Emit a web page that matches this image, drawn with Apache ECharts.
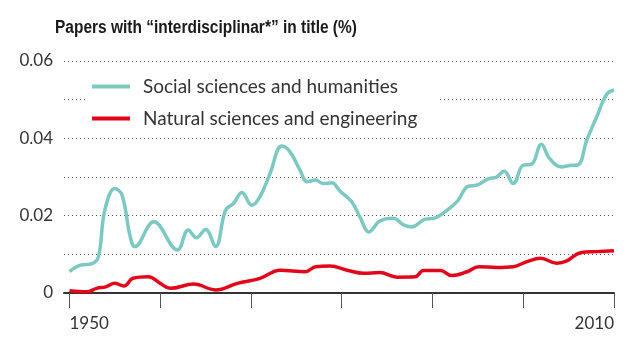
<!DOCTYPE html>
<html>
<head>
<meta charset="utf-8">
<script src="https://cdn.jsdelivr.net/npm/echarts@6/dist/echarts.min.js"></script>
<style>
  html, body { margin: 0; padding: 0; background: #fff; }
  #chart { width: 630px; height: 345px; }
</style>
</head>
<body>
<div id="chart"></div>
<script>
// Share of papers with "interdisciplinar*" in the title, by field
const socialYears = [1950.0, 1951.2, 1952.5, 1953.2, 1953.9, 1955.0, 1955.8, 1956.7, 1957.2, 1959.3,
  1961.9, 1963.1, 1964.0, 1965.0, 1966.1, 1967.2, 1968.1, 1969.0, 1970.1, 1971.0,
  1972.1, 1973.4, 1974.3, 1975.4, 1976.2, 1977.1, 1978.0, 1978.9, 1979.8, 1981.1,
  1982.0, 1983.0, 1984.2, 1985.7, 1986.8, 1987.7, 1989.2, 1990.1, 1991.6, 1992.8,
  1993.9, 1994.9, 1996.2, 1997.0, 1997.9, 1998.9, 2000.0, 2000.9, 2002.0, 2002.9,
  2004.2, 2005.1, 2006.0, 2007.0, 2008.1, 2009.2, 2010.0];
const socialValues = [0.0055, 0.0072, 0.0076, 0.0094, 0.0214, 0.0270, 0.0253, 0.0145, 0.0120, 0.0184,
  0.0111, 0.0163, 0.0143, 0.0164, 0.0120, 0.0214, 0.0232, 0.0260, 0.0227, 0.0249,
  0.0309, 0.0380, 0.0365, 0.0318, 0.0288, 0.0292, 0.0283, 0.0285, 0.0264, 0.0236,
  0.0197, 0.0158, 0.0186, 0.0193, 0.0176, 0.0171, 0.0191, 0.0193, 0.0214, 0.0239,
  0.0276, 0.0279, 0.0296, 0.0299, 0.0315, 0.0283, 0.0331, 0.0333, 0.0385, 0.0348,
  0.0326, 0.0330, 0.0331, 0.0395, 0.0456, 0.0514, 0.0525];

const naturalYears = [1950.0, 1951.9, 1953.0, 1954.0, 1955.0, 1956.0, 1957.0, 1958.7, 1960.0, 1961.1,
  1963.7, 1966.1, 1968.5, 1971.0, 1973.2, 1976.0, 1977.1, 1978.7, 1980.6, 1982.4,
  1984.2, 1986.1, 1988.1, 1989.0, 1990.9, 1992.1, 1993.8, 1995.1, 1997.1, 1998.9,
  2000.4, 2001.9, 2003.7, 2004.8, 2006.3, 2008.1, 2010.0];
const naturalValues = [0.0006, 0.0003, 0.0012, 0.0016, 0.0025, 0.0018, 0.0038, 0.0042, 0.0025, 0.0012,
  0.0023, 0.0008, 0.0025, 0.0038, 0.0059, 0.0055, 0.0068, 0.0070, 0.0059, 0.0051,
  0.0053, 0.0041, 0.0042, 0.0058, 0.0058, 0.0045, 0.0055, 0.0068, 0.0066, 0.0068,
  0.0081, 0.0090, 0.0077, 0.0083, 0.0104, 0.0107, 0.0109];

const seriesNames = ['Social sciences and humanities', 'Natural sciences and engineering'];
const tickYears = [1950, 1960, 1970, 1980, 1990, 2000, 2010];
const labelYears = [1950, 2010];
const titleText = 'Papers with \u201Cinterdisciplinar*\u201D in title (%)';

const pairs = (xs, ys) => xs.map((x, i) => [x, ys[i]]);

const labelFont = 'Lato, "Noto Sans", sans-serif';
const chart = echarts.init(document.getElementById('chart'), null, { renderer: 'canvas' });

chart.setOption({
  animation: false,
  backgroundColor: '#ffffff',
  // condensed bold heading, narrowed horizontally
  graphic: [{
    type: 'text',
    left: 55,
    top: 19,
    scaleX: 0.86,
    style: {
      text: titleText,
      font: 'bold 18px "Liberation Sans", Arial, sans-serif',
      fill: '#1a1a1a'
    }
  }],
  legend: {
    orient: 'vertical',
    left: 86,
    top: 73,
    padding: [4, 22, 4, 6],
    backgroundColor: '#ffffff',
    itemWidth: 38,
    itemHeight: 4,
    itemGap: 13,
    icon: 'rect',
    data: seriesNames,
    textStyle: {
      fontFamily: labelFont,
      fontSize: 19,
      color: '#333',
      padding: [0, 0, 0, 8]
    }
  },
  grid: { left: 64, right: 16, top: 61, bottom: 52 },
  xAxis: {
    type: 'value',
    min: 1949.4,
    max: 2010,
    axisLine: { show: true, lineStyle: { color: '#333', width: 2 } },
    axisTick: { show: true, length: 15, customValues: tickYears, lineStyle: { color: '#555', width: 1 } },
    axisLabel: {
      customValues: labelYears,
      alignMinLabel: 'left',
      alignMaxLabel: 'right',
      margin: 22,
      fontFamily: labelFont,
      fontSize: 17,
      color: '#333',
      formatter: v => String(v)
    },
    splitLine: { show: false }
  },
  yAxis: {
    type: 'value',
    min: 0,
    max: 0.06,
    interval: 0.01,
    axisLine: { show: false },
    axisTick: { show: false },
    axisLabel: {
      margin: 11,
      fontFamily: labelFont,
      fontSize: 17,
      color: '#333',
      formatter: v => {
        const k = Math.round(v * 100);
        if (k === 0) return '0';
        return k % 2 === 0 ? v.toFixed(2) : '';
      }
    },
    splitLine: {
      show: true,
      lineStyle: { color: '#555', width: 1, type: [1, 3] }
    }
  },
  series: [
    {
      name: seriesNames[0],
      type: 'line',
      data: pairs(socialYears, socialValues),
      smooth: 0.4,
      showSymbol: false,
      lineStyle: { color: '#7cc9c2', width: 3.5 },
      itemStyle: { color: '#7cc9c2' },
      z: 3
    },
    {
      name: seriesNames[1],
      type: 'line',
      data: pairs(naturalYears, naturalValues),
      smooth: 0.4,
      showSymbol: false,
      lineStyle: { color: '#e3061b', width: 3.5 },
      itemStyle: { color: '#e3061b' },
      z: 3
    }
  ]
});
</script>
</body>
</html>
